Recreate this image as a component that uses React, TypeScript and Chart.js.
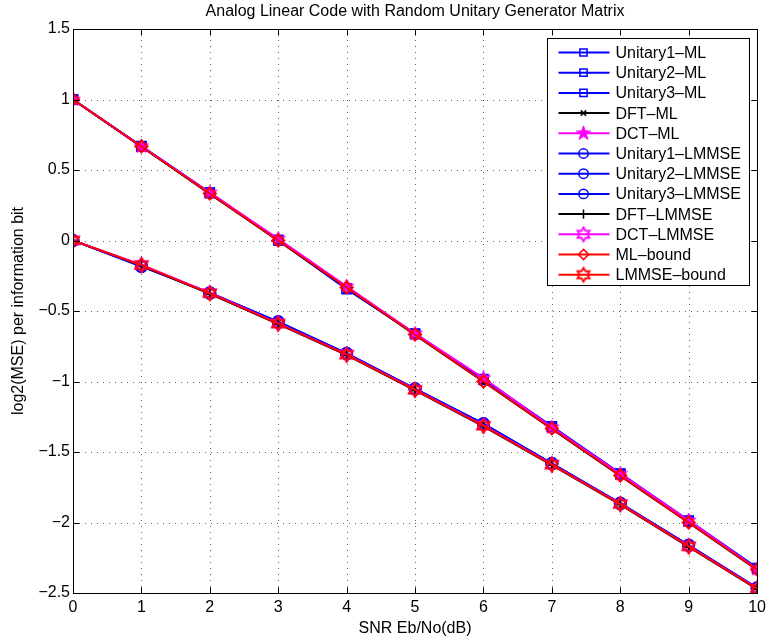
import React, { useEffect, useRef } from 'react';
import { Chart, registerables } from 'chart.js';
import { drawPoint } from 'chart.js/helpers';

Chart.register(...registerables);

// ---------- data ----------
const snr = [0, 1, 2, 3, 4, 5, 6, 7, 8, 9, 10];

const unitary1ML = [1, 0.67, 0.34, 0.0, -0.345, -0.66, -0.985, -1.32, -1.655, -1.99, -2.325];
const unitary2ML = [1, 0.665, 0.335, 0.005, -0.34, -0.665, -0.99, -1.325, -1.66, -1.995, -2.33];
const unitary3ML = [1, 0.668, 0.338, 0.002, -0.338, -0.662, -0.982, -1.318, -1.652, -1.985, -2.322];
const dftML = [1, 0.665, 0.331, -0.002, -0.335, -0.669, -1.002, -1.336, -1.669, -2.002, -2.336];
const dctML = [1, 0.668, 0.34, 0.012, -0.325, -0.66, -0.975, -1.325, -1.655, -1.985, -2.33];
const unitary1LMMSE = [0, -0.185, -0.37, -0.578, -0.8, -1.05, -1.3, -1.58, -1.865, -2.16, -2.465];
const unitary2LMMSE = [0, -0.18, -0.375, -0.582, -0.805, -1.055, -1.302, -1.585, -1.868, -2.165, -2.468];
const unitary3LMMSE = [0, -0.182, -0.372, -0.575, -0.8, -1.052, -1.298, -1.582, -1.862, -2.162, -2.462];
const dftLMMSE = [0, -0.177, -0.379, -0.593, -0.813, -1.063, -1.318, -1.593, -1.873, -2.173, -2.473];
const dctLMMSE = [0, -0.172, -0.372, -0.588, -0.808, -1.058, -1.312, -1.588, -1.868, -2.168, -2.468];
const mlBound = [1, 0.667, 0.333, 0, -0.333, -0.667, -1, -1.333, -1.667, -2, -2.333];
const lmmseBound = [0, -0.175, -0.375, -0.59, -0.81, -1.06, -1.315, -1.59, -1.87, -2.17, -2.47];

const seriesNames = [
  'Unitary1\u2013ML', 'Unitary2\u2013ML', 'Unitary3\u2013ML', 'DFT\u2013ML', 'DCT\u2013ML',
  'Unitary1\u2013LMMSE', 'Unitary2\u2013LMMSE', 'Unitary3\u2013LMMSE', 'DFT\u2013LMMSE', 'DCT\u2013LMMSE',
  'ML\u2013bound', 'LMMSE\u2013bound',
];

const titleText = 'Analog Linear Code with Random Unitary Generator Matrix';
const xLabel = 'SNR Eb/No(dB)';
const yLabel = 'log2(MSE) per information bit';

const xMin = 0, xMax = 10, xStep = 1;
const yMin = -2.5, yMax = 1.5, yStep = 0.5;

const FONT = '"Liberation Sans", Arial, Helvetica, sans-serif';
const BLUE = '#0000ff';
const BLACK = '#000000';
const MAGENTA = '#ff00ff';
const RED = '#ff0000';

function makeStar(n: number, outer: number, innerRatio: number, color: string, filled: boolean, lw: number) {
  const size = Math.ceil(outer * 2 + lw * 2 + 2);
  const c = document.createElement('canvas');
  c.width = size;
  c.height = size;
  const ctx = c.getContext('2d')!;
  const cx = size / 2, cy = size / 2;
  ctx.beginPath();
  for (let i = 0; i < n * 2; i++) {
    const r = i % 2 === 0 ? outer : outer * innerRatio;
    const a = -Math.PI / 2 + (i * Math.PI) / n;
    const x = cx + r * Math.cos(a);
    const y = cy + r * Math.sin(a);
    if (i === 0) ctx.moveTo(x, y);
    else ctx.lineTo(x, y);
  }
  ctx.closePath();
  if (filled) {
    ctx.fillStyle = color;
    ctx.fill();
  }
  ctx.strokeStyle = color;
  ctx.lineWidth = lw;
  ctx.lineJoin = 'miter';
  ctx.stroke();
  return c;
}

export default function App() {
  const ref = useRef<HTMLCanvasElement | null>(null);

  useEffect(() => {
    document.body.style.margin = '0';
    const canvas = ref.current!;
    const pentagram = makeStar(5, 7.5, 0.4, MAGENTA, true, 1);
    const hexMagenta = makeStar(6, 7, 0.58, MAGENTA, false, 1.8);
    const hexRed = makeStar(6, 7, 0.58, RED, false, 1.8);

    const specs = [
      { data: unitary1ML, color: BLUE, style: 'rect', r: 6, fill: false },
      { data: unitary2ML, color: BLUE, style: 'rect', r: 6, fill: false },
      { data: unitary3ML, color: BLUE, style: 'rect', r: 6, fill: false },
      { data: dftML, color: BLACK, style: 'crossRot', r: 4.5, fill: false },
      { data: dctML, color: MAGENTA, style: pentagram as any, r: 6, fill: true },
      { data: unitary1LMMSE, color: BLUE, style: 'circle', r: 5.5, fill: false },
      { data: unitary2LMMSE, color: BLUE, style: 'circle', r: 5.5, fill: false },
      { data: unitary3LMMSE, color: BLUE, style: 'circle', r: 5.5, fill: false },
      { data: dftLMMSE, color: BLACK, style: 'cross', r: 5.5, fill: false },
      { data: dctLMMSE, color: MAGENTA, style: hexMagenta as any, r: 6, fill: false },
      { data: mlBound, color: RED, style: 'rectRot', r: 6, fill: false },
      { data: lmmseBound, color: RED, style: hexRed as any, r: 6, fill: false },
    ];

    const datasets = specs.map((s, i) => ({
      label: seriesNames[i],
      data: s.data.map((v, j) => ({ x: snr[j], y: v })),
      borderColor: s.color,
      backgroundColor: s.fill ? s.color : 'rgba(0,0,0,0)',
      borderWidth: 2,
      pointStyle: s.style,
      pointRadius: s.r,
      pointBorderColor: s.color,
      pointBackgroundColor: s.fill ? s.color : 'rgba(0,0,0,0)',
      pointBorderWidth: 2,
      tension: 0,
      fill: false,
      order: specs.length - i,
    }));

    const fmt = (v: number) => {
      const s = String(Math.round(v * 10) / 10);
      return s.replace('-', '\u2212');
    };

    const framePlugin = {
      id: 'matlabFrame',
      beforeDatasetsDraw(chart: any) {
        const { ctx, chartArea: a, scales } = chart;
        ctx.save();
        ctx.strokeStyle = 'rgba(0,0,0,0.6)';
        ctx.lineWidth = 1;
        ctx.setLineDash([1, 5]);
        for (let v = xMin + xStep; v < xMax - 1e-9; v += xStep) {
          const px = Math.round(scales.x.getPixelForValue(v)) + 0.5;
          ctx.beginPath();
          ctx.moveTo(px, a.bottom);
          ctx.lineTo(px, a.top);
          ctx.stroke();
        }
        for (let v = yMin + yStep; v < yMax - 1e-9; v += yStep) {
          const py = Math.round(scales.y.getPixelForValue(v)) + 0.5;
          ctx.beginPath();
          ctx.moveTo(a.left, py);
          ctx.lineTo(a.right, py);
          ctx.stroke();
        }
        ctx.restore();
      },
      afterDatasetsDraw(chart: any) {
        const { ctx, chartArea: a, scales } = chart;
        ctx.save();
        ctx.strokeStyle = '#000';
        ctx.lineWidth = 1;
        ctx.setLineDash([]);
        const L = Math.round(a.left) + 0.5, R = Math.round(a.right) + 0.5;
        const T = Math.round(a.top) + 0.5, B = Math.round(a.bottom) + 0.5;
        ctx.strokeRect(L, T, R - L, B - T);
        const tl = 6;
        ctx.beginPath();
        for (let v = xMin; v <= xMax + 1e-9; v += xStep) {
          const px = Math.round(scales.x.getPixelForValue(v)) + 0.5;
          ctx.moveTo(px, B); ctx.lineTo(px, B - tl);
          ctx.moveTo(px, T); ctx.lineTo(px, T + tl);
        }
        for (let v = yMin; v <= yMax + 1e-9; v += yStep) {
          const py = Math.round(scales.y.getPixelForValue(v)) + 0.5;
          ctx.moveTo(L, py); ctx.lineTo(L + tl, py);
          ctx.moveTo(R, py); ctx.lineTo(R - tl, py);
        }
        ctx.stroke();
        ctx.restore();
      },
      afterDraw(chart: any) {
        const { ctx, chartArea: a } = chart;
        ctx.save();
        ctx.fillStyle = '#000';
        ctx.font = `16px ${FONT}`;
        ctx.textAlign = 'center';
        ctx.textBaseline = 'middle';
        const cx = (a.left + a.right) / 2;
        ctx.fillText(titleText, cx, a.top - 17);
        ctx.fillText(xLabel, cx, a.bottom + 36);
        ctx.save();
        ctx.translate(19, (a.top + a.bottom) / 2);
        ctx.rotate(-Math.PI / 2);
        ctx.fillText(yLabel, 0, 0);
        ctx.restore();

        // legend
        const bw = 202, bh = 247;
        const bx = Math.round(a.right - 8 - bw) + 0.5;
        const by = Math.round(a.top + 9) + 0.5;
        ctx.fillStyle = '#fff';
        ctx.fillRect(bx, by, bw, bh);
        ctx.strokeStyle = '#000';
        ctx.lineWidth = 1;
        ctx.strokeRect(bx, by, bw, bh);
        const metas = chart.data.datasets;
        for (let i = 0; i < metas.length; i++) {
          const ds = metas[i];
          const y = by + 14 + i * 20.2;
          ctx.strokeStyle = ds.borderColor;
          ctx.lineWidth = 2;
          ctx.beginPath();
          ctx.moveTo(bx + 11, y);
          ctx.lineTo(bx + 62, y);
          ctx.stroke();
          ctx.fillStyle = ds.pointBackgroundColor;
          ctx.strokeStyle = ds.pointBorderColor;
          ctx.lineWidth = 1.5;
          const lr = typeof ds.pointStyle === 'string' ? ds.pointRadius * 0.85 : ds.pointRadius;
          drawPoint(ctx, { pointStyle: ds.pointStyle, rotation: 0, radius: lr, borderWidth: 1.5 } as any, bx + 36, y);
          ctx.fillStyle = '#000';
          ctx.textAlign = 'left';
          ctx.textBaseline = 'middle';
          ctx.font = `16px ${FONT}`;
          ctx.fillText(ds.label, bx + 68, y + 1);
        }
        ctx.restore();
      },
    };

    const chart = new Chart(canvas, {
      type: 'line',
      data: { datasets: datasets as any },
      options: {
        responsive: false,
        animation: false,
        devicePixelRatio: 1,
        layout: { padding: { left: 0, right: 12, top: 29, bottom: 0 } },
        plugins: {
          legend: { display: false },
          title: { display: false },
          tooltip: { enabled: false },
        },
        scales: {
          x: {
            type: 'linear',
            min: xMin,
            max: xMax,
            ticks: { stepSize: xStep, font: { family: FONT, size: 16 }, color: '#000', padding: 5, maxRotation: 0, callback: (v: any) => fmt(Number(v)) },
            grid: { display: false, drawTicks: false },
            border: { display: false },
            afterFit: (s: any) => { s.height = 51; },
          },
          y: {
            type: 'linear',
            min: yMin,
            max: yMax,
            ticks: { stepSize: yStep, font: { family: FONT, size: 16 }, color: '#000', padding: 3, callback: (v: any) => fmt(Number(v)) },
            grid: { display: false, drawTicks: false },
            border: { display: false },
            afterFit: (s: any) => { s.width = 73; },
          },
        },
      },
      plugins: [framePlugin as any],
    });
    return () => chart.destroy();
  }, []);

  return <canvas ref={ref} width={771} height={644} style={{ display: 'block' }} />;
}
